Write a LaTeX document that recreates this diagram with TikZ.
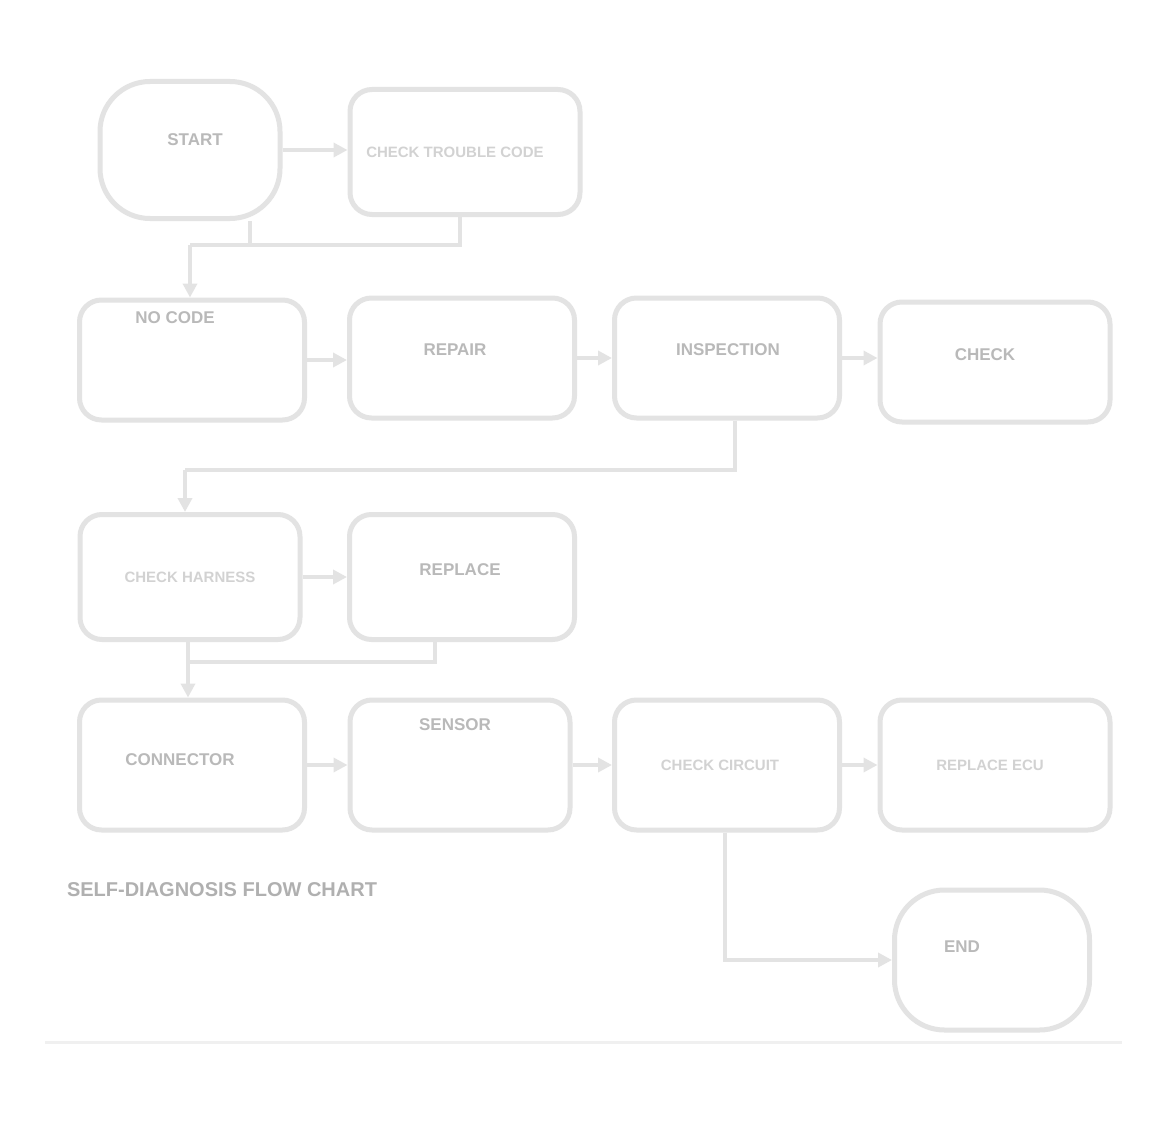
\documentclass[tikz,border=0pt]{standalone}
\usepackage{fontspec}
\setmainfont{Liberation Sans}
\usetikzlibrary{arrows.meta}
\begin{document}
\begin{tikzpicture}[x=1pt,y=-1pt,
  box/.style={draw=gray!22,line width=5pt,rounded corners=22pt,fill=white,inner sep=0pt},
  term/.style={box,rounded corners=50pt},
  txt/.style={text=gray!55,font=\bfseries\fontsize{17}{20}\selectfont,inner sep=1pt},
  ltxt/.style={text=gray!35,font=\bfseries\fontsize{15}{18}\selectfont,inner sep=1pt},
  conn/.style={draw=gray!22,line width=4pt},
  arr/.style={conn,-{Triangle[length=14pt,width=14pt]}}]
\useasboundingbox (0,0) rectangle (1167,1121);
\fill[white] (0,0) rectangle (1167,1121);
% row 1
\node[term,minimum width=180pt,minimum height=137pt] (A) at (190,150) {};
\node[box,minimum width=230pt,minimum height=125pt] (B) at (465,152) {};
\node[txt] (At) at (195,140) {START};
\node[ltxt] (Bt) at (455,152) {CHECK TROUBLE CODE};
% row 2
\node[box,minimum width=225pt,minimum height=120pt] (C) at (192,360) {};
\node[box,minimum width=225pt,minimum height=120pt] (D) at (462,358) {};
\node[box,minimum width=225pt,minimum height=120pt] (E) at (727,358) {};
\node[box,minimum width=230pt,minimum height=120pt] (F) at (995,362) {};
\node[txt] (Ct) at (175,318) {NO CODE};
\node[txt] (Dt) at (455,350) {REPAIR};
\node[txt] (Et) at (728,350) {INSPECTION};
\node[txt] (Ft) at (985,355) {CHECK};
% row 3
\node[box,minimum width=220pt,minimum height=125pt] (G) at (190,577) {};
\node[box,minimum width=225pt,minimum height=125pt] (H) at (462,577) {};
\node[ltxt] (Gt) at (190,577) {CHECK HARNESS};
\node[txt] (Ht) at (460,570) {REPLACE};
% row 4
\node[box,minimum width=225pt,minimum height=130pt] (I) at (192,765) {};
\node[box,minimum width=220pt,minimum height=130pt] (J) at (460,765) {};
\node[box,minimum width=225pt,minimum height=130pt] (K) at (727,765) {};
\node[box,minimum width=230pt,minimum height=130pt] (L) at (995,765) {};
\node[txt] (It) at (180,760) {CONNECTOR};
\node[txt] (Jt) at (455,725) {SENSOR};
\node[ltxt] (Kt) at (720,765) {CHECK CIRCUIT};
\node[ltxt] (Lt) at (990,765) {REPLACE ECU};
% end
\node[term,minimum width=195pt,minimum height=140pt] (M) at (992,960) {};
\node[txt] (Mt) at (962,947) {END};
% note and rule
\node[txt,text=gray!62,font=\bfseries\fontsize{20}{22}\selectfont] (N) at (222,890) {SELF-DIAGNOSIS FLOW CHART};
\coordinate (R1) at (45,1042);
\coordinate (R2) at (1122,1042);
\draw[draw=gray!12,line width=3pt] (R1) -- (R2);
% connectors
\draw[arr] (A.east) -- (A.east -| B.west);
\coordinate (j1) at (250,245);
\coordinate (j2) at (460,245);
\coordinate (j3) at (190,245);
\draw[conn] (A.south -| j1) -- (j1);
\draw[conn] (B.south -| j2) -- (j2) -- (j3);
\draw[arr] (j3) -- (C.north -| j3);
\draw[arr] (C.east) -- (C.east -| D.west);
\draw[arr] (D.east) -- (D.east -| E.west);
\draw[arr] (E.east) -- (E.east -| F.west);
\coordinate (k1) at (735,470);
\coordinate (k2) at (185,470);
\draw[conn] (E.south -| k1) -- (k1) -- (k2);
\draw[arr] (k2) -- (G.north -| k2);
\draw[arr] (G.east) -- (G.east -| H.west);
\coordinate (m1) at (188,662);
\coordinate (m2) at (435,662);
\draw[conn] (H.south -| m2) -- (m2) -- (m1);
\draw[arr] (G.south -| m1) -- (I.north -| m1);
\draw[arr] (I.east) -- (I.east -| J.west);
\draw[arr] (J.east) -- (J.east -| K.west);
\draw[arr] (K.east) -- (K.east -| L.west);
\coordinate (p1) at (725,960);
\draw[arr] (K.south -| p1) -- (p1) -- (M.west);
\end{tikzpicture}
\end{document}
